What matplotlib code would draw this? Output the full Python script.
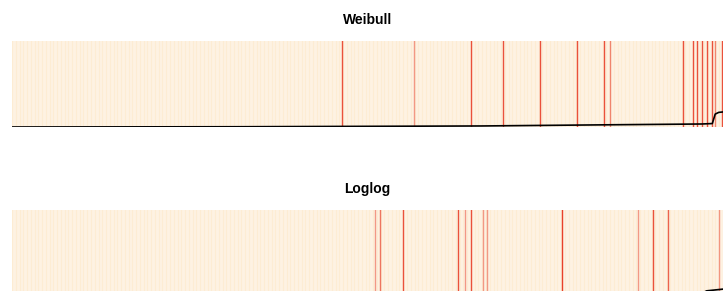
import numpy as np
import matplotlib
matplotlib.use("Agg")
import matplotlib.pyplot as plt

# event positions (percent of x range) and strength for each panel
weibull_x = [46.46, 56.50, 64.60, 69.10, 74.30, 79.42, 83.26, 84.15,
             94.42, 95.82, 96.30, 97.00, 97.71, 98.41, 98.87, 99.90]
weibull_a = [0.9, 0.5, 0.9, 0.9, 0.9, 0.9, 0.9, 0.6,
             0.9, 0.9, 0.9, 0.9, 0.9, 0.9, 0.6, 0.9]
loglog_x = [51.05, 51.76, 55.04, 62.77, 63.71, 64.56, 66.20, 66.76,
            77.31, 88.00, 90.20, 92.31, 99.48]
loglog_a = [0.5, 0.7, 0.9, 0.9, 0.5, 0.9, 0.5, 0.5,
            1.0, 0.5, 0.9, 0.8, 0.5]

# cumulative hazard curves (x in percent, y as fraction of panel height)
weibull_curve_x = [0, 32, 66, 83, 97, 98.5, 98.9, 99.4, 100]
weibull_curve_y = [0.0, 0.003, 0.012, 0.025, 0.035, 0.04, 0.15, 0.17, 0.175]
loglog_curve_x = [0, 60, 97, 97.7, 100]
loglog_curve_y = [0.0, 0.01, 0.03, 0.06, 0.08]

panels = [
    ("Weibull", weibull_x, weibull_a, weibull_curve_x, weibull_curve_y),
    ("Loglog", loglog_x, loglog_a, loglog_curve_x, loglog_curve_y),
]

W, H = 723, 291
fig = plt.figure(figsize=(W / 100, H / 100), dpi=100)

# pixel boxes: (top, bottom)
boxes = [(41, 127), (210, 296)]

for (title, ev_x, ev_a, cx, cy), (top, bot) in zip(panels, boxes):
    ax = fig.add_axes([12 / W, 1 - bot / H, 1 - 12 / W, (bot - top) / H])
    ax.set_facecolor("#fef2e2")
    # faint background stripes
    for xs in np.linspace(0, 100, 190):
        ax.axvline(xs, color="#fde3b8", lw=0.8, alpha=0.35, zorder=1)
    for x, a in zip(ev_x, ev_a):
        ax.axvline(x, color="#e8402a", lw=1.0, alpha=a, zorder=2)
    ax.plot(cx, cy, color="black", lw=1.2, zorder=3, clip_on=True)
    ax.set_xlim(0, 100)
    ax.set_ylim(0, 1)
    for s in ax.spines.values():
        s.set_visible(False)
    ax.set_xticks([])
    ax.set_yticks([])
    ax.text(0.5, 1 + 14 / (bot - top), title, transform=ax.transAxes,
            ha="center", va="bottom", fontsize=10, fontweight="bold",
            family="Liberation Sans")

fig.savefig("out.png", dpi=100)
